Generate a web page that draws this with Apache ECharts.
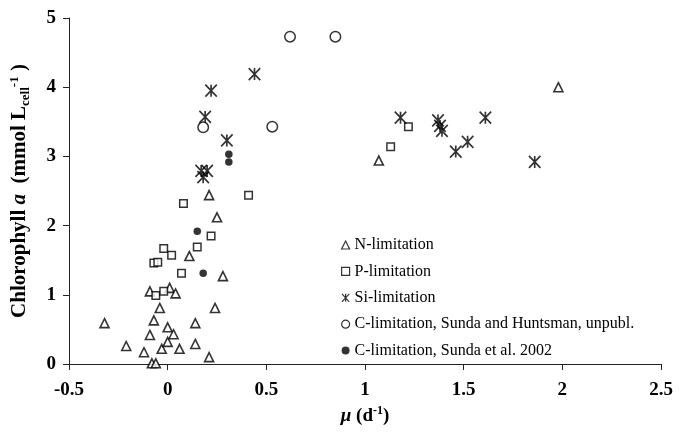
<!DOCTYPE html>
<html>
<head>
<meta charset="utf-8">
<script src="https://cdn.jsdelivr.net/npm/echarts@6/dist/echarts.min.js"></script>
<style>
  html, body { margin: 0; padding: 0; background: #fff; }
  #chart { width: 681px; height: 432px; }
</style>
</head>
<body>
<div id="chart"></div>
<script>
// Growth rate (d^-1) vs. chlorophyll a per cell volume, by limiting resource
const seriesNames = [
  'N-limitation',
  'P-limitation',
  'Si-limitation',
  'C-limitation, Sunda and Huntsman, unpubl.',
  'C-limitation, Sunda et al. 2002'
];

const nLimitation = [
  [-0.32, 0.59], [-0.21, 0.26], [-0.12, 0.17], [-0.09, 0.42], [-0.09, 1.05],
  [-0.08, 0.01], [-0.07, 0.63], [-0.06, 0.01], [-0.04, 0.81], [-0.03, 0.22],
  [0.00, 0.53], [0.00, 0.32], [0.01, 1.10], [0.03, 0.43], [0.04, 1.02],
  [0.06, 0.22], [0.11, 1.56], [0.14, 0.59], [0.14, 0.29], [0.21, 0.10],
  [0.24, 0.81], [0.21, 2.44], [0.25, 2.12], [0.28, 1.27], [1.07, 2.94],
  [1.98, 4.00]
];

const pLimitation = [
  [0.41, 2.44], [0.08, 2.32], [0.22, 1.85], [-0.02, 1.67], [0.15, 1.69],
  [0.02, 1.57], [-0.07, 1.46], [-0.05, 1.47], [0.07, 1.31], [-0.06, 0.99],
  [-0.02, 1.05], [1.13, 3.14], [1.22, 3.43]
];

const siLimitation = [
  [0.44, 4.19], [0.22, 3.95], [0.19, 3.57], [0.30, 3.23], [0.17, 2.79],
  [0.20, 2.79], [0.18, 2.70], [1.18, 3.56], [1.37, 3.52], [1.38, 3.44],
  [1.39, 3.37], [1.46, 3.07], [1.52, 3.21], [1.61, 3.56], [1.86, 2.92]
];

const cLimitationUnpubl = [
  [0.62, 4.73], [0.85, 4.73], [0.18, 3.42], [0.53, 3.43]
];

const cLimitation2002 = [
  [0.31, 3.03], [0.31, 2.92], [0.15, 1.92], [0.18, 1.31]
];

const xTicks = { min: -0.5, max: 2.5, interval: 0.5 };
const yTicks = { min: 0, max: 5, interval: 1 };

const serif = '"Liberation Serif", "DejaVu Serif", serif';
const starPath = 'path://M0,0L10,11M10,0L0,11M5,0L5,11';

const styles = [
  { symbol: 'triangle', size: 9, item: { color: '#fff', borderColor: '#000', borderWidth: 1.6 } },
  { symbol: 'rect', size: 7.5, item: { color: '#fff', borderColor: '#000', borderWidth: 1.5 } },
  { symbol: starPath, size: [11.5, 12], item: { color: 'transparent', borderColor: '#000', borderWidth: 1.7 } },
  { symbol: 'circle', size: 10.5, item: { color: '#fff', borderColor: '#000', borderWidth: 1.5 } },
  { symbol: 'circle', size: 7.5, item: { color: '#000', borderColor: '#000', borderWidth: 0 } }
];
const legendIcons = [
  { icon: 'triangle', itemStyle: { color: '#fff', borderColor: '#000', borderWidth: 1.2 } },
  { icon: 'rect', itemStyle: { color: '#fff', borderColor: '#000', borderWidth: 1.2 } },
  { icon: starPath, itemStyle: { color: 'transparent', borderColor: '#000', borderWidth: 1.2 } },
  { icon: 'circle', itemStyle: { color: '#fff', borderColor: '#000', borderWidth: 1.2 } },
  { icon: 'circle', itemStyle: { color: '#000', borderColor: '#000', borderWidth: 0 } }
];

const dataSets = [nLimitation, pLimitation, siLimitation, cLimitationUnpubl, cLimitation2002];

const chart = echarts.init(document.getElementById('chart'), null, { renderer: 'canvas' });

chart.setOption({
  animation: false,
  backgroundColor: '#fff',
  grid: { left: 67, right: 20, top: 18, bottom: 67, containLabel: false },
  legend: {
    orient: 'vertical',
    left: 336,
    top: 232,
    itemWidth: 8,
    itemHeight: 8,
    itemGap: 10.4,
    textStyle: { fontFamily: serif, fontSize: 16, color: '#000', lineHeight: 16 },
    data: seriesNames.map((n, i) => Object.assign({ name: n }, legendIcons[i]))
  },
  xAxis: {
    type: 'value',
    min: xTicks.min, max: xTicks.max, interval: xTicks.interval,
    splitLine: { show: false },
    axisLine: { onZero: false, lineStyle: { color: '#222', width: 1 } },
    axisTick: { show: true, length: 6, lineStyle: { color: '#222' } },
    axisLabel: { margin: 17, color: '#000', fontFamily: serif, fontWeight: 'bold', fontSize: 19 },
    name: '{i|μ} (d{sup|-1})',
    nameLocation: 'middle',
    nameGap: 41,
    nameTextStyle: {
      fontFamily: serif, fontWeight: 'bold', fontSize: 19, color: '#000', lineHeight: 22,
      rich: {
        i: { fontFamily: serif, fontStyle: 'italic', fontWeight: 'bold', fontSize: 19, color: '#000', lineHeight: 22 },
        sup: { fontFamily: serif, fontWeight: 'bold', fontSize: 12, color: '#000', lineHeight: 12, verticalAlign: 'top' }
      }
    }
  },
  yAxis: {
    type: 'value',
    min: yTicks.min, max: yTicks.max, interval: yTicks.interval,
    splitLine: { show: false },
    axisLine: { show: true, onZero: false, lineStyle: { color: '#222', width: 1 } },
    axisTick: { show: true, length: 6, lineStyle: { color: '#222' } },
    axisLabel: { margin: 13, color: '#000', fontFamily: serif, fontWeight: 'bold', fontSize: 19 },
    name: 'Chlorophyll {i|a}  (mmol L{sub|cell}{sup|-1} )',
    nameLocation: 'middle',
    nameRotate: 90,
    nameGap: 37,
    nameTextStyle: {
      fontFamily: serif, fontWeight: 'bold', fontSize: 21, color: '#000', lineHeight: 24,
      rich: {
        i: { fontFamily: serif, fontStyle: 'italic', fontWeight: 'bold', fontSize: 21, color: '#000', lineHeight: 24 },
        sub: { fontFamily: serif, fontWeight: 'bold', fontSize: 13, color: '#000', lineHeight: 13, verticalAlign: 'bottom' },
        sup: { fontFamily: serif, fontWeight: 'bold', fontSize: 13, color: '#000', lineHeight: 13, verticalAlign: 'top' }
      }
    }
  },
  series: dataSets.map((d, i) => ({
    name: seriesNames[i],
    type: 'scatter',
    data: d,
    symbol: styles[i].symbol,
    symbolSize: styles[i].size,
    itemStyle: styles[i].item,
    emphasis: { disabled: true }
  }))
});
</script>
</body>
</html>
